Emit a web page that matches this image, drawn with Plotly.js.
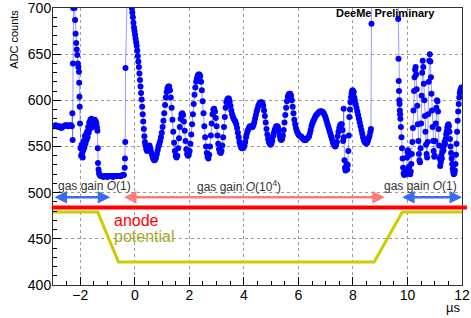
<!DOCTYPE html>
<html><head><meta charset="utf-8">
<script src="https://cdn.plot.ly/plotly-3.0.1.min.js"></script>
<style>html,body{margin:0;padding:0;background:#fff;} #chart{width:471px;height:318px;}</style>
</head><body><div id="chart"></div>
<script>
// waveform samples (time in µs, ADC counts)
const timeUs = [
 -3.00,-2.95,-2.90,-2.85,-2.80,-2.75,-2.70,-2.65,-2.60,-2.55,-2.50,-2.45,-2.40,-2.35,-2.31,
 -2.29,-2.28,-2.27,-2.26,-2.24,-2.22,-2.21,-2.19,-2.17,-2.15,-2.13,-2.11,-2.09,-2.07,-2.05,-2.04,-2.03,-2.02,-2.01,
 -1.99,-1.97,-1.95,-1.93,-1.91,-1.89,-1.87,-1.85,-1.83,-1.81,-1.79,-1.77,-1.75,-1.73,-1.71,-1.69,-1.67,-1.65,-1.63,-1.61,
 -1.59,-1.57,-1.55,-1.53,-1.51,-1.49,-1.47,-1.45,-1.43,-1.41,-1.39,-1.37,-1.36,-1.35,-1.33,-1.31,-1.29,
 -1.25,-1.20,-1.15,-1.10,-1.05,-1.00,-0.95,-0.90,-0.85,-0.80,-0.75,-0.70,-0.65,-0.60,-0.55,-0.50,-0.45,-0.40,
 -0.37,-0.36,-0.35,-0.34,-0.33,-0.22,-0.12,-0.11,-0.09,-0.07,-0.05,-0.03,-0.01,
 0.01,0.03,0.05,0.07,0.09,0.11,0.13,0.15,0.17,0.19,0.21,0.23,0.25,0.27,0.29,0.31,0.33,0.35,0.37,0.39,
 0.42,0.45,0.48,0.51,0.54,0.57,0.60,0.63,0.66,0.69,0.72,0.75,0.78,0.81,0.84,0.87,0.90,0.93,0.96,0.99,
 1.02,1.05,1.08,1.11,1.14,1.17,1.20,1.23,1.26,1.29,1.32,1.35,1.38,1.41,1.44,1.47,1.50,1.53,1.56,1.59,
 1.62,1.65,1.68,1.71,1.74,1.77,1.80,1.83,1.86,1.89,1.92,1.95,1.98,2.01,2.04,2.07,2.10,2.13,2.16,2.19,
 2.22,2.25,2.28,2.31,2.34,2.37,2.40,2.43,2.46,2.49,2.52,2.55,2.58,2.61,2.64,2.67,2.70,2.73,2.76,2.79,
 2.82,2.85,2.88,2.91,2.94,2.97,3.00,3.03,3.06,3.09,3.12,3.15,3.18,3.21,3.24,3.27,3.30,3.33,3.36,3.39,
 3.42,3.45,3.48,3.51,3.54,3.57,3.60,3.63,3.66,3.69,3.72,3.75,3.78,3.81,3.84,3.87,3.90,3.93,3.96,
 3.99,4.02,4.05,4.08,4.11,4.14,4.17,4.20,4.23,4.26,4.29,4.32,4.35,4.38,4.41,4.44,4.47,4.50,4.53,4.56,
 4.59,4.62,4.65,4.68,4.71,4.74,4.77,4.80,4.83,4.86,4.89,4.92,4.95,4.98,5.01,5.04,5.07,5.10,5.13,5.16,
 5.19,5.22,5.25,5.28,5.31,5.34,5.37,5.40,5.43,5.46,5.49,5.52,5.55,5.58,5.61,5.64,5.67,5.70,5.73,5.76,
 5.79,5.82,5.85,5.88,5.91,5.94,5.97,6.00,6.03,6.06,6.09,6.12,6.15,6.18,6.21,6.24,6.27,6.30,6.33,6.36,
 6.39,6.42,6.45,6.48,6.51,6.54,6.57,6.60,6.63,6.66,6.69,6.72,6.75,6.78,6.81,6.84,6.87,6.90,6.93,6.96,
 6.99,7.02,7.05,7.08,7.11,7.14,7.17,7.20,7.23,7.26,7.29,7.32,7.35,7.38,7.41,7.44,7.47,7.50,7.53,7.56,
 7.59,7.62,7.64,7.66,7.67,7.69,7.71,7.73,7.75,7.77,7.79,7.81,7.83,7.85,7.87,7.89,7.91,7.93,7.95,7.97,
 7.99,8.01,8.03,8.05,8.07,8.10,8.13,8.16,8.19,8.22,8.25,8.28,8.31,8.34,8.37,8.40,8.43,8.46,8.49,8.52,
 8.55,8.58,8.61,8.64,8.66,8.68,8.70,9.00,9.40,9.64,
 9.66,9.67,9.68,9.69,9.70,9.71,9.72,9.73,9.74,9.76,9.78,9.80,9.82,9.84,9.86,9.88,9.90,9.92,9.94,9.96,
 9.98,10.00,10.02,10.04,10.06,10.08,10.10,10.12,10.14,10.16,10.18,10.20,10.22,10.24,10.26,10.28,10.30,10.32,10.34,10.36,
 10.38,10.40,10.42,10.44,10.46,10.48,10.50,10.52,10.54,10.56,10.58,10.60,10.62,10.64,10.66,10.68,10.70,10.72,10.74,10.76,
 10.78,10.80,10.82,10.84,10.86,10.88,10.90,10.92,10.94,10.96,10.98,11.00,11.02,11.04,11.06,11.08,11.10,11.12,11.14,11.16,
 11.18,11.20,11.22,11.24,11.26,11.28,11.30,11.32,11.34,11.36,11.38,11.40,11.42,11.44,11.46,11.48,11.50,11.52,11.54,11.56,
 11.58,11.60,11.62,11.64,11.66,11.68,11.70,11.72,11.74,11.76,11.78,11.80,11.82,11.84,11.86,11.88,11.90,11.92,11.94,11.96,11.98
];
const adcCounts = [
 572,572,573,572,571,572,570,571,572,573,573,572,573,573,572,
 586,557,640,700,745,730,700,687,672,662,655,649,640,636,631,619,604,593,575,
 548,540,552,543,538,546,556,549,561,553,563,557,566,560,571,565,576,569,579,573,
 580,575,578,571,577,574,579,573,577,575,571,567,548,532,525,521,519,
 518,518,517,518,518,517,518,518,518,517,518,518,518,518,518,518,519,519,
 527,537,555,635,760,790,706,700,695,690,684,679,675,
 671,667,663,659,654,648,642,636,629,622,615,608,601,593,585,577,569,561,555,551,
 547,545,546,549,551,548,544,541,538,536,535,536,538,542,546,550,553,556,560,565,
 571,578,586,595,603,609,613,615,615,611,603,592,579,566,554,545,540,538,540,548,
 559,571,580,585,586,584,577,567,556,547,542,540,541,545,553,563,574,585,596,606,
 614,620,624,627,628,628,626,620,611,599,586,572,560,550,543,539,537,541,550,562,
 575,585,590,591,588,581,572,562,553,547,544,543,545,551,560,571,582,592,598,601,
 602,602,599,594,589,585,582,580,578,577,574,570,565,560,555,551,549,548,548,
 549,551,555,560,564,567,569,571,572,572,571,571,573,576,580,584,588,591,594,596,
 597,598,598,597,594,589,583,576,569,563,558,555,553,552,553,556,561,565,568,570,
 572,572,571,567,562,558,557,558,562,568,576,584,592,599,604,606,607,607,605,600,
 593,586,579,574,570,567,565,563,562,561,561,560,559,558,557,557,557,558,559,560,
 561,564,568,572,575,577,579,581,583,584,585,586,587,588,588,588,588,587,586,584,
 582,579,576,573,570,567,564,561,558,555,553,551,550,551,555,561,566,570,573,574,
 574,568,556,591,560,535,527,524,528,531,525,530,545,562,582,590,598,603,607,610,
 611,606,609,603,600,596,592,588,584,580,576,572,568,564,560,557,555,554,553,554,
 556,559,562,566,569,683,770,810,800,730,
 688,645,621,610,600,596,589,585,580,571,560,548,537,527,521,519,521,523,520,526,
 538,544,546,540,528,521,520,523,531,542,555,570,589,610,625,633,636,628,612,594,
 574,556,542,535,533,548,575,605,630,643,636,618,600,583,566,552,542,538,555,585,
 620,643,650,642,625,607,589,571,556,545,539,540,556,575,592,600,599,588,569,551,
 537,529,533,540,537,544,549,546,551,555,553,558,563,566,570,573,574,572,566,558,
 550,543,537,531,526,522,520,521,524,531,541,553,566,578,588,596,603,608,611,612,614
];
// anode line level, potential curve, gas-gain regions
const anodeLevel = [484];
const potentialTimeUs = [-3, -1.36, -0.6, 8.78, 9.81, 12];
const potentialLevel = [479, 479, 425, 425, 479, 479];
const gainRegionStart = [-3, -0.45, 9.75];
const gainRegionEnd = [-0.9, 9.17, 12];
const gainRegionLabel = ['gas gain <i>O</i>(1)', 'gas gain <i>O</i>(10<sup>4</sup>)', 'gas gain <i>O</i>(1)'];
const gainRegionColor = ['#3a6cf0', '#ff7a7a', '#3a6cf0'];
const gainArrowLevel = [495, 495, 495];

const FONT = 'Liberation Sans, Arial, Helvetica, sans-serif';

const traces = [
  {x: timeUs, y: adcCounts, type: 'scatter', mode: 'lines+markers',
   line: {color: 'rgba(70,70,255,0.55)', width: 1},
   marker: {color: '#0000ff', size: 6, line: {width: 0}}},
  {x: potentialTimeUs, y: potentialLevel, type: 'scatter', mode: 'lines',
   line: {color: '#cccc00', width: 3}}
];

const labelX = [-2.9, 3.82, 10.46];
const labelAnchor = ['left', 'center', 'center'];
const annotations = [];
for (let i = 0; i < gainRegionStart.length; i++) {
  annotations.push({x: gainRegionEnd[i], y: gainArrowLevel[i], ax: gainRegionStart[i], ay: gainArrowLevel[i],
    xref: 'x', yref: 'y', axref: 'x', ayref: 'y', text: '', showarrow: true,
    arrowhead: 2, startarrowhead: 2, arrowside: 'end+start', arrowsize: 1, startarrowsize: 1,
    arrowwidth: 2.5, arrowcolor: gainRegionColor[i], standoff: 0, startstandoff: 0});
  annotations.push({x: labelX[i], y: 507, xref: 'x', yref: 'y', text: gainRegionLabel[i], showarrow: false,
    xanchor: labelAnchor[i], yanchor: 'middle', font: {family: FONT, size: 12, color: '#333'}});
}
annotations.push({x: -0.85, y: 470, xref: 'x', yref: 'y', text: 'anode', showarrow: false,
  xanchor: 'left', yanchor: 'middle', font: {family: FONT, size: 16, color: '#ff0000'}});
annotations.push({x: -0.85, y: 453, xref: 'x', yref: 'y', text: 'potential', showarrow: false,
  xanchor: 'left', yanchor: 'middle', font: {family: FONT, size: 16, color: '#a8a828'}});
annotations.push({x: 0.814, y: 0.982, xref: 'paper', yref: 'paper', text: '<b>DeeMe Preliminary</b>', showarrow: false,
  xanchor: 'center', yanchor: 'middle', font: {family: FONT, size: 11, color: '#000'}});
annotations.push({x: -0.097, y: 1, xref: 'paper', yref: 'paper', text: 'ADC counts', showarrow: false, textangle: -90,
  xanchor: 'center', yanchor: 'top', font: {family: FONT, size: 11, color: '#000'}});
annotations.push({x: 1, y: -0.082, xref: 'paper', yref: 'paper', text: 'µs', showarrow: false,
  xanchor: 'right', yanchor: 'middle', font: {family: FONT, size: 13, color: '#000'}});

const axisCommon = {
  ticks: 'inside', ticklen: 8, tickwidth: 1, tickcolor: '#000',
  showline: true, linecolor: '#333', linewidth: 1, mirror: true,
  showgrid: true, gridcolor: '#999', griddash: 'dot', gridwidth: 1, zeroline: false,
  ticklabeloverflow: 'allow',
  tickfont: {family: FONT, size: 14, color: '#000'}
};

const layout = {
  width: 471, height: 318,
  margin: {l: 53, r: 9, t: 8, b: 33},
  paper_bgcolor: '#fff', plot_bgcolor: '#fff',
  showlegend: false,
  xaxis: Object.assign({}, axisCommon, {range: [-3, 12], tick0: 0, dtick: 2, ticklabelstandoff: -3,
    minor: {dtick: 0.5, tick0: 0, ticks: 'inside', ticklen: 4, tickcolor: '#000', showgrid: false}}),
  yaxis: Object.assign({}, axisCommon, {range: [400, 700.001], tick0: 400, dtick: 50, ticklabelstandoff: -2,
    minor: {dtick: 10, tick0: 400, ticks: 'inside', ticklen: 4, tickcolor: '#000', showgrid: false}}),
  shapes: [{type: 'line', xref: 'paper', yref: 'y', x0: -0.003, x1: 1.012, y0: anodeLevel[0], y1: anodeLevel[0],
    line: {color: '#ff0000', width: 4}}],
  annotations: annotations
};

Plotly.newPlot('chart', traces, layout, {staticPlot: true, displayModeBar: false});
</script>
</body></html>
